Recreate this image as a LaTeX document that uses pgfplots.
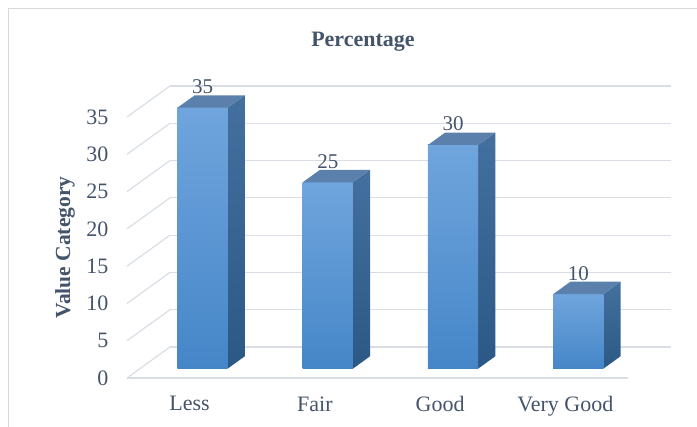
\documentclass[border=0pt]{standalone}
\usepackage{pgfplots}
\pgfplotsset{compat=1.18}
\usepackage{fontspec}
\setmainfont{Liberation Serif}
\definecolor{txt}{HTML}{44546A}
\definecolor{gridc}{HTML}{D9DEE6}
\definecolor{frontT}{HTML}{70A5DD}
\definecolor{frontB}{HTML}{4586C8}
\definecolor{sideT}{HTML}{44709F}
\definecolor{sideB}{HTML}{2B5884}
\definecolor{topc}{HTML}{5A80AB}
\definecolor{framec}{HTML}{D9D9D9}
\tikzset{
  frontface/.style={draw=none, top color=frontT, bottom color=frontB},
  sideface/.style={draw=none, top color=sideT, bottom color=sideB},
  topface/.style={draw=none, fill=topc},
}
\begin{document}
\begin{tikzpicture}[x=1pt,y=1pt]
\begin{axis}[
  x={(125.25pt,0pt)}, y={(43pt,31pt)}, z={(0pt,7.457pt)},
  xmin=-0.5, xmax=3.5, ymin=0, ymax=1, zmin=0, zmax=35,
  axis lines*=left,
  x axis line style={draw=gridc, line width=1.2pt},
  y axis line style={draw=none},
  z axis line style={draw=none},
  clip=false,
  zmajorgrids, xmajorgrids=false, ymajorgrids=false,
  major grid style={draw=gridc, line width=1.2pt},
  xtick={0,1,2,3},
  xticklabels={Less, Fair, Good, Very Good},
  ytick=\empty,
  ztick={0,5,10,15,20,25,30,35},
  major tick length=0pt,
  /pgf/number format/assume math mode=true,
  tick label style={font=\fontsize{22}{26}\selectfont, text=txt},
  x tick label style={anchor=north, yshift=-15pt},
  z tick label style={anchor=east, xshift=-15pt},
  zlabel={Value Category},
  every axis z label/.style={at={(rel axis cs:0,0,0.5)}, rotate=90, anchor=center, yshift=62pt,
    font=\fontsize{21.5}{25}\selectfont\bfseries, text=txt},
]
% Less = 35
\addplot3[sideface] coordinates {(0.2,0.3,0) (0.2,0.7,0) (0.2,0.7,35) (0.2,0.3,35)};
\addplot3[frontface] coordinates {(-0.2,0.3,0) (0.2,0.3,0) (0.2,0.3,35) (-0.2,0.3,35)};
\addplot3[topface] coordinates {(-0.2,0.3,35) (0.2,0.3,35) (0.2,0.7,35) (-0.2,0.7,35)};
% Fair = 25
\addplot3[sideface] coordinates {(1.2,0.3,0) (1.2,0.7,0) (1.2,0.7,25) (1.2,0.3,25)};
\addplot3[frontface] coordinates {(0.8,0.3,0) (1.2,0.3,0) (1.2,0.3,25) (0.8,0.3,25)};
\addplot3[topface] coordinates {(0.8,0.3,25) (1.2,0.3,25) (1.2,0.7,25) (0.8,0.7,25)};
% Good = 30
\addplot3[sideface] coordinates {(2.2,0.3,0) (2.2,0.7,0) (2.2,0.7,30) (2.2,0.3,30)};
\addplot3[frontface] coordinates {(1.8,0.3,0) (2.2,0.3,0) (2.2,0.3,30) (1.8,0.3,30)};
\addplot3[topface] coordinates {(1.8,0.3,30) (2.2,0.3,30) (2.2,0.7,30) (1.8,0.7,30)};
% Very Good = 10
\addplot3[sideface] coordinates {(3.2,0.3,0) (3.2,0.7,0) (3.2,0.7,10) (3.2,0.3,10)};
\addplot3[frontface] coordinates {(2.8,0.3,0) (3.2,0.3,0) (3.2,0.3,10) (2.8,0.3,10)};
\addplot3[topface] coordinates {(2.8,0.3,10) (3.2,0.3,10) (3.2,0.7,10) (2.8,0.7,10)};
% data labels
\addplot3[draw=none, mark=none, point meta=z, nodes near coords,
  every node near coord/.style={anchor=base, yshift=14pt, font=\fontsize{21}{25}\selectfont, text=txt}]
  coordinates {(0,0.3,35) (1,0.3,25) (2,0.3,30) (3,0.3,10)};
\coordinate (O) at (axis cs:-0.5,0,0);
\end{axis}
\pgfresetboundingbox
\path[use as bounding box] ([shift={(-127pt,-49pt)}]O) rectangle ([shift={(570pt,378pt)}]O);
\draw[framec, line width=1pt] ([shift={(-118pt,-60pt)}]O) -- ([shift={(-118pt,369pt)}]O) -- ([shift={(590pt,369pt)}]O);
\node[font=\fontsize{22}{26}\selectfont\bfseries, text=txt] at ([shift={(236pt,336pt)}]O) {Percentage};
\end{tikzpicture}
\end{document}
